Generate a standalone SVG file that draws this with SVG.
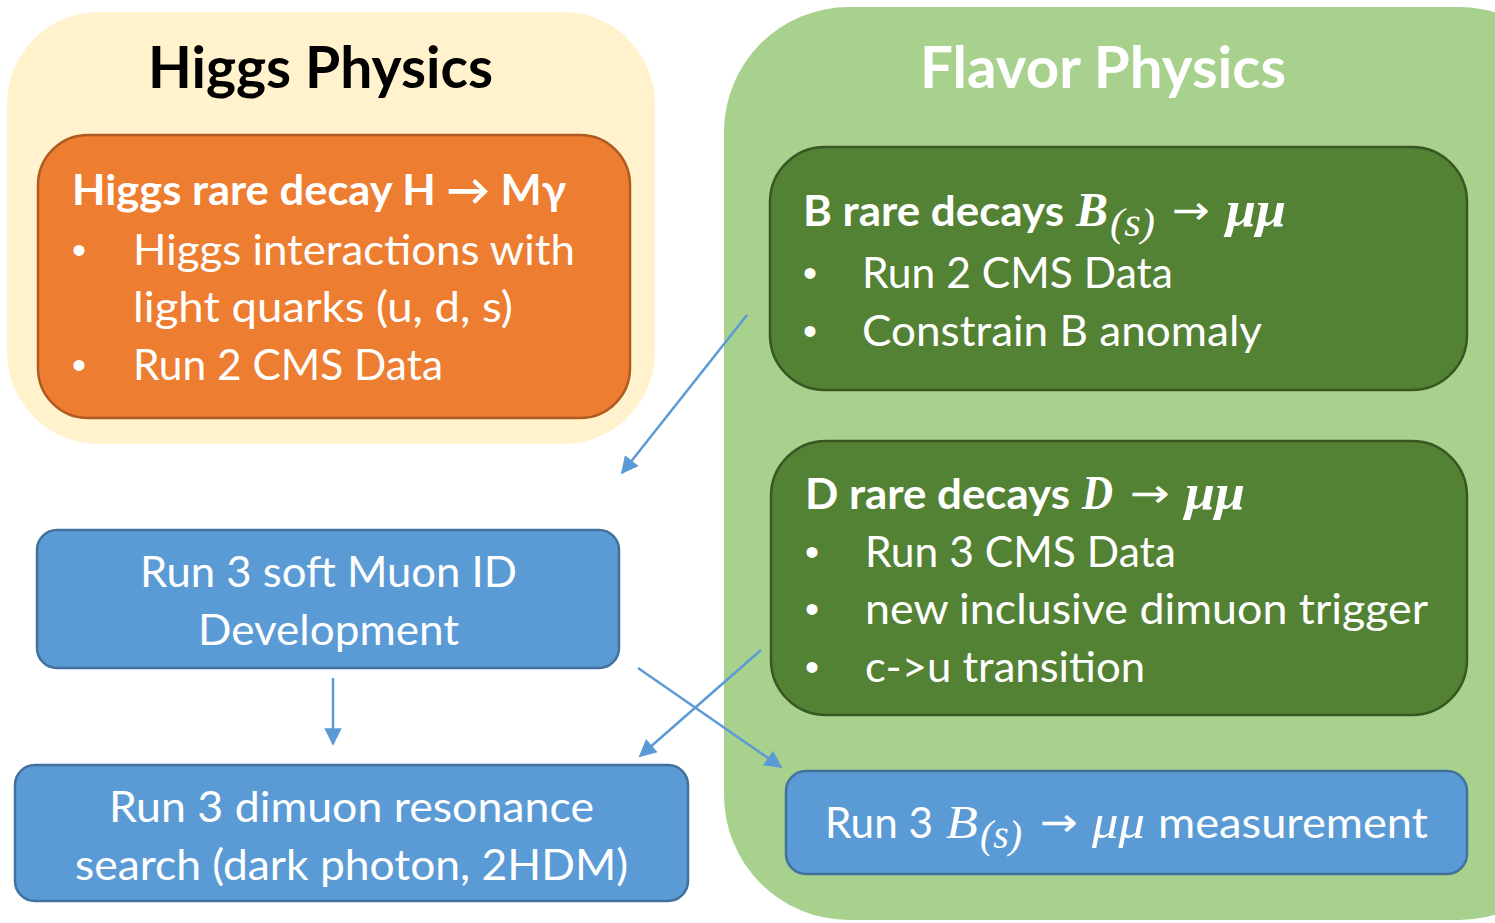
<svg xmlns="http://www.w3.org/2000/svg" width="1495" height="923" viewBox="0 0 1495 923">
<defs>
<style>
.t{font-family:Lato,"Open Sans","Liberation Sans",sans-serif;fill:#fff;font-size:42px}
.b{font-weight:bold}
.ttl{font-family:Lato,"Open Sans","Liberation Sans",sans-serif;font-weight:bold;font-size:58px}
.bu{font-family:"Liberation Sans",sans-serif;fill:#fff;font-size:40px}
.m{font-family:"Liberation Serif","DejaVu Serif",serif;fill:#fff}
.ar{font-family:"DejaVu Sans",sans-serif;fill:#fff;font-size:40px}
.green{fill:#548235;stroke:#385723;stroke-width:2.5}
.blue{fill:#5b9bd5;stroke:#41719c;stroke-width:2.5}
.conn{stroke:#5b9bd5;stroke-width:2.5;fill:none;marker-end:url(#ah)}
</style>
<marker id="ah" viewBox="0 0 10 10" refX="9" refY="5" markerWidth="8" markerHeight="7" markerUnits="strokeWidth" orient="auto">
<path d="M0,0 L10,5 L0,10 z" fill="#5b9bd5"/>
</marker>
</defs>
<rect width="1495" height="923" fill="#fff"/>
<g id="higgs-container">
<rect x="7" y="12" width="648" height="432" rx="92" fill="#fff2cc"/>
<text class="ttl" x="148" y="88" fill="#000" textLength="345" lengthAdjust="spacingAndGlyphs">Higgs Physics</text>
</g>
<g id="flavor-container">
<rect x="724" y="7" width="860" height="913" rx="125" fill="#a9d18e"/>
<text class="ttl" x="920" y="88" fill="#fff" textLength="366" lengthAdjust="spacingAndGlyphs">Flavor Physics</text>
</g>
<g id="higgs-decay">
<rect x="38" y="135" width="592" height="283" rx="50" fill="#ed7d31" stroke="#ae5a21" stroke-width="2.5"/>
<text class="t b" x="72" y="205" textLength="494" lengthAdjust="spacingAndGlyphs">Higgs rare decay H → Mγ</text>
<text class="bu" x="72" y="264">•</text>
<text class="t" x="133" y="265" textLength="442" lengthAdjust="spacingAndGlyphs">Higgs interactions with</text>
<text class="t" x="133" y="322" textLength="380" lengthAdjust="spacingAndGlyphs">light quarks (u, d, s)</text>
<text class="bu" x="72" y="379">•</text>
<text class="t" x="133" y="380" textLength="310" lengthAdjust="spacingAndGlyphs">Run 2 CMS Data</text>
</g>
<g id="b-decays">
<rect class="green" x="770" y="147" width="697" height="243" rx="55"/>
<text class="t b" x="803" y="226" textLength="261" lengthAdjust="spacingAndGlyphs">B rare decays</text>
<text class="m" x="1076" y="226" font-size="48" font-style="italic" font-weight="bold">B</text>
<text class="m" x="1110" y="236" font-size="40" font-style="italic" textLength="45" lengthAdjust="spacingAndGlyphs">(s)</text>
<text class="ar" x="1172" y="224" textLength="38" lengthAdjust="spacingAndGlyphs">→</text>
<text class="m" x="1226" y="226" font-size="50" font-style="italic" font-weight="bold" textLength="60" lengthAdjust="spacingAndGlyphs">μμ</text>
<text class="bu" x="803" y="287">•</text>
<text class="t" x="862" y="288" textLength="311" lengthAdjust="spacingAndGlyphs">Run 2 CMS Data</text>
<text class="bu" x="803" y="345">•</text>
<text class="t" x="862" y="346" textLength="400" lengthAdjust="spacingAndGlyphs">Constrain B anomaly</text>
</g>
<g id="d-decays">
<rect class="green" x="771" y="441" width="696" height="274" rx="55"/>
<text class="t b" x="805" y="509" textLength="265" lengthAdjust="spacingAndGlyphs">D rare decays</text>
<text class="m" x="1082" y="509" font-size="48" font-style="italic" font-weight="bold" textLength="31" lengthAdjust="spacingAndGlyphs">D</text>
<text class="ar" x="1130" y="507" textLength="40" lengthAdjust="spacingAndGlyphs">→</text>
<text class="m" x="1185" y="509" font-size="50" font-style="italic" font-weight="bold" textLength="60" lengthAdjust="spacingAndGlyphs">μμ</text>
<text class="bu" x="805" y="566">•</text>
<text class="t" x="865" y="567" textLength="311" lengthAdjust="spacingAndGlyphs">Run 3 CMS Data</text>
<text class="bu" x="805" y="623">•</text>
<text class="t" x="865" y="624" textLength="563" lengthAdjust="spacingAndGlyphs">new inclusive dimuon trigger</text>
<text class="bu" x="805" y="681">•</text>
<text class="t" x="865" y="682" textLength="280" lengthAdjust="spacingAndGlyphs">c-&gt;u transition</text>
</g>
<g id="soft-muon">
<rect class="blue" x="37" y="530" width="582" height="138" rx="20"/>
<text class="t" x="140" y="587" textLength="377" lengthAdjust="spacingAndGlyphs">Run 3 soft Muon ID</text>
<text class="t" x="198" y="645" textLength="261" lengthAdjust="spacingAndGlyphs">Development</text>
</g>
<g id="dimuon-resonance">
<rect class="blue" x="15" y="765" width="673" height="136" rx="20"/>
<text class="t" x="109" y="822" textLength="485" lengthAdjust="spacingAndGlyphs">Run 3 dimuon resonance</text>
<text class="t" x="75" y="880" textLength="553" lengthAdjust="spacingAndGlyphs">search (dark photon, 2HDM)</text>
</g>
<g id="bs-measurement">
<rect class="blue" x="786" y="771" width="681" height="103" rx="20"/>
<text class="t" x="825" y="838" textLength="108" lengthAdjust="spacingAndGlyphs">Run 3</text>
<text class="m" x="946" y="838" font-size="46" font-style="italic" textLength="32" lengthAdjust="spacingAndGlyphs">B</text>
<text class="m" x="980" y="848" font-size="40" font-style="italic" textLength="42" lengthAdjust="spacingAndGlyphs">(s)</text>
<text class="ar" x="1040" y="836" textLength="38" lengthAdjust="spacingAndGlyphs">→</text>
<text class="m" x="1092" y="838" font-size="48" font-style="italic" textLength="53" lengthAdjust="spacingAndGlyphs">μμ</text>
<text class="t" x="1158" y="838" textLength="270" lengthAdjust="spacingAndGlyphs">measurement</text>
</g>
<g id="connectors">
<line class="conn" x1="747" y1="315" x2="622" y2="473"/>
<line class="conn" x1="333" y1="678" x2="333" y2="744"/>
<line class="conn" x1="761" y1="650" x2="640" y2="756"/>
<line class="conn" x1="638" y1="668" x2="781" y2="767"/>
</g>
</svg>
